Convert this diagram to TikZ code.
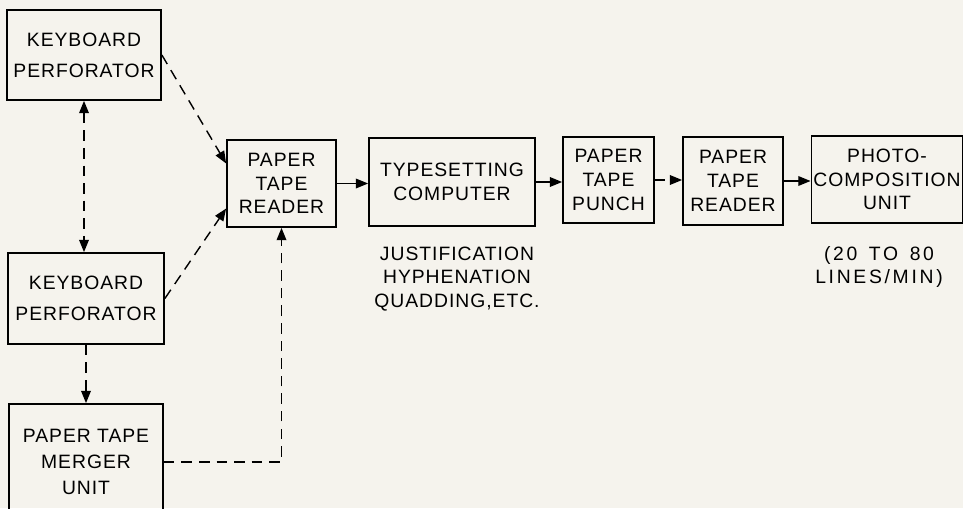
\documentclass[tikz,border=0pt]{standalone}
\usepackage{fontspec}
\setmainfont[LetterSpace=5]{Liberation Sans}
\usetikzlibrary{calc,positioning,arrows.meta}

\begin{document}
\begin{tikzpicture}[inner sep=0.4mm,
  box/.style={draw,line width=1pt,align=center,font=\fontsize{11}{13.5}\selectfont},
  note/.style={align=center,font=\fontsize{11}{13.5}\selectfont},
  tip/.style={-{Triangle[length=7pt,width=5.5pt]}},
  link/.style={line width=0.8pt,tip},
  dlink/.style={link,dash pattern=on 6pt off 4pt}]
\useasboundingbox[fill={rgb,255:red,245;green,243;blue,237}] (0,0) rectangle (19.26,-10.16);
\node[box,minimum width=3.08cm,minimum height=1.80cm,font=\fontsize{11}{17.5}\selectfont] (kbA) at (1.68,-1.10) {KEYBOARD\\PERFORATOR};
\node[box,minimum width=3.12cm,minimum height=1.82cm,font=\fontsize{11}{17.5}\selectfont] (kbB) at (1.72,-5.97) {KEYBOARD\\PERFORATOR};
\node[box,minimum width=3.08cm,minimum height=2.32cm,font=\fontsize{11}{15}\selectfont] (merger) at (1.72,-9.24) {PAPER TAPE\\MERGER\\UNIT};
\node[box,minimum width=2.18cm,minimum height=1.74cm] (readA) at (5.63,-3.67) {PAPER\\TAPE\\READER};
\node[box,minimum width=3.32cm,minimum height=1.76cm] (typeset) at (9.04,-3.64) {TYPESETTING\\COMPUTER};
\node[box,minimum width=1.82cm,minimum height=1.72cm] (punch) at (12.17,-3.60) {PAPER\\TAPE\\PUNCH};
\node[box,minimum width=2.00cm,minimum height=1.76cm] (readB) at (14.66,-3.62) {PAPER\\TAPE\\READER};
\node[box,minimum width=2.96cm,minimum height=1.74cm] (photo) at (17.74,-3.59) {PHOTO-\\COMPOSITION\\UNIT};
\node[note] (tasks) at (9.14,-5.58) {JUSTIFICATION\\HYPHENATION\\QUADDING,ETC.};
\node[note,font=\fontsize{11}{13.5}\selectfont\addfontfeature{LetterSpace=14}] (speed) at (17.58,-5.34) {(20\hspace{0.6em}TO\hspace{0.6em}80\\LINES/MIN)};

\draw[dlink] (kbA.east) -- ($(readA.west)+(0,0.4)$);
\draw[dlink] (kbB.east) -- ($(readA.west)+(0,-0.5)$);
\draw[dlink,{Triangle[length=7pt,width=5.5pt]}-{Triangle[length=7pt,width=5.5pt]}] (kbA.south) -- (kbA.south |- kbB.north);
\draw[dlink] (kbB.south) -- (kbB.south |- merger.north);
\draw[dlink] (merger.east) -| (readA.south);
\draw[link] (readA.east) -- (readA.east -| typeset.west);
\draw[link] (typeset.east) -- (typeset.east -| punch.west);
\draw[dlink] (punch.east) -- (punch.east -| readB.west);
\draw[link] (readB.east) -- (readB.east -| photo.west);

\end{tikzpicture}
\end{document}
